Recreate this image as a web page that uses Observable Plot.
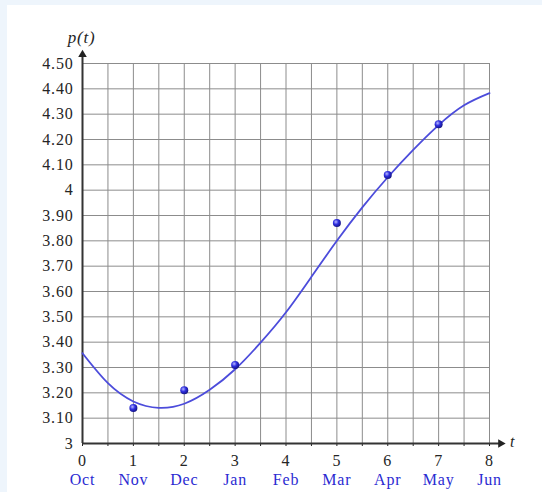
<!DOCTYPE html>
<html>
<head>
<meta charset="utf-8">
<script src="https://cdn.jsdelivr.net/npm/d3@7"></script>
<script src="https://cdn.jsdelivr.net/npm/@observablehq/plot@0.6"></script>
<style>
  html, body { margin: 0; padding: 0; width: 542px; height: 492px; overflow: hidden; background: #eef5fc; }
  #panel { position: absolute; left: 7px; top: 5px; right: 0; bottom: 0; background: #ffffff; }
  #chart { position: absolute; left: 0; top: 0; }
  #chart svg text { font-family: "Liberation Serif", "DejaVu Serif", serif !important; letter-spacing: 0.8px; }
</style>
</head>
<body>
<div id="panel"></div>
<div id="chart"></div>
<script>
// Observed data points (month index t, price p)
const pointT = [1, 2, 3, 5, 6, 7];
const pointP = [3.14, 3.21, 3.31, 3.87, 4.06, 4.26];

// Fitted curve at half-month steps
const curveT = [0, 0.5, 1, 1.5, 2, 2.5, 3, 3.5, 4, 4.5, 5, 5.5, 6, 6.5, 7, 7.5, 8];
const curveP = [3.356, 3.238, 3.166, 3.141, 3.157, 3.212, 3.293, 3.398, 3.518, 3.658, 3.80, 3.932, 4.051, 4.159, 4.257, 4.335, 4.383];

// Tick labels
const xTicks = [0, 1, 2, 3, 4, 5, 6, 7, 8];
const months = ["Oct", "Nov", "Dec", "Jan", "Feb", "Mar", "Apr", "May", "Jun"];
const xGrid = [0, 0.5, 1, 1.5, 2, 2.5, 3, 3.5, 4, 4.5, 5, 5.5, 6, 6.5, 7, 7.5, 8];
const yTicks = [3, 3.1, 3.2, 3.3, 3.4, 3.5, 3.6, 3.7, 3.8, 3.9, 4, 4.1, 4.2, 4.3, 4.4, 4.5];
const yTickLabels = ["3", "3.10", "3.20", "3.30", "3.40", "3.50", "3.60", "3.70", "3.80", "3.90", "4", "4.10", "4.20", "4.30", "4.40", "4.50"];

// Axis arrow extents
const xAxisEnd = 8.22;
const yAxisEnd = 4.535;

const points = pointT.map((t, i) => ({t, p: pointP[i]}));
const curve = curveT.map((t, i) => ({t, p: curveP[i]}));

const font = "'Liberation Serif', 'DejaVu Serif', serif";
const blue = "#2b2bd2";
const ink = "#252525";

const chart = Plot.plot({
  width: 542,
  height: 492,
  marginLeft: 82,
  marginRight: 53,
  marginTop: 63,
  marginBottom: 49,
  style: {background: "transparent", fontFamily: font, fontSize: "16px", color: ink, overflow: "visible"},
  x: {domain: [0, 8]},
  y: {domain: [3, 4.5]},
  marks: [
    Plot.gridX(xGrid, {stroke: "#8c8c8c", strokeOpacity: 1, strokeWidth: 1}),
    Plot.gridY(yTicks, {stroke: "#8c8c8c", strokeOpacity: 1, strokeWidth: 1}),
    Plot.axisY({ticks: yTicks, tickFormat: (d, i) => yTickLabels[i], tickSize: 0, tickPadding: 9, fill: ink, fontSize: 16, label: null}),
    Plot.axisX({ticks: xGrid, tickFormat: () => "", tickSize: 3, stroke: "#222", label: null}),
    Plot.axisX({ticks: xTicks, tickFormat: (d, i) => String(xTicks[i]), tickSize: 0, tickPadding: 11, fill: ink, fontSize: 16, label: null}),
    Plot.axisX({ticks: xTicks, tickFormat: (d, i) => months[i], tickSize: 0, tickPadding: 30, fill: blue, fontSize: 16, label: null}),
    Plot.ruleY([3], {x1: 0, x2: xAxisEnd, stroke: "#333", strokeWidth: 2}),
    Plot.ruleX([0], {y1: 3, y2: yAxisEnd, stroke: "#333", strokeWidth: 2}),
    Plot.dot([xAxisEnd], {x: d => d, y: 3, symbol: "triangle", rotate: 90, r: 3.2, fill: "#222", stroke: "none"}),
    Plot.dot([yAxisEnd], {x: 0, y: d => d, symbol: "triangle", r: 3.2, fill: "#222", stroke: "none"}),
    Plot.line(curve, {x: "t", y: "p", curve: "natural", stroke: "#4c4cdb", strokeWidth: 1.8}),
    Plot.dot(points, {x: "t", y: "p", r: 4, fill: "url(#ball)", stroke: "none"}),
    Plot.text(["p(t)"], {frameAnchor: "top-left", lineAnchor: "middle", dx: -1, dy: -26, fontStyle: "italic", fontSize: 17, fill: ink, textAnchor: "middle"}),
    Plot.text(["t"], {frameAnchor: "bottom-right", lineAnchor: "middle", dx: 23, dy: -2, fontStyle: "italic", fontSize: 16, fill: ink, textAnchor: "middle"})
  ]
});

d3.select(chart).insert("defs", ":first-child").html(
  '<radialGradient id="ball" cx="0.38" cy="0.35" r="0.7">' +
  '<stop offset="0" stop-color="#b8b8ff"/>' +
  '<stop offset="0.45" stop-color="#2f2fe0"/>' +
  '<stop offset="1" stop-color="#10107a"/>' +
  '</radialGradient>'
);

document.getElementById("chart").appendChild(chart);
</script>
</body>
</html>
